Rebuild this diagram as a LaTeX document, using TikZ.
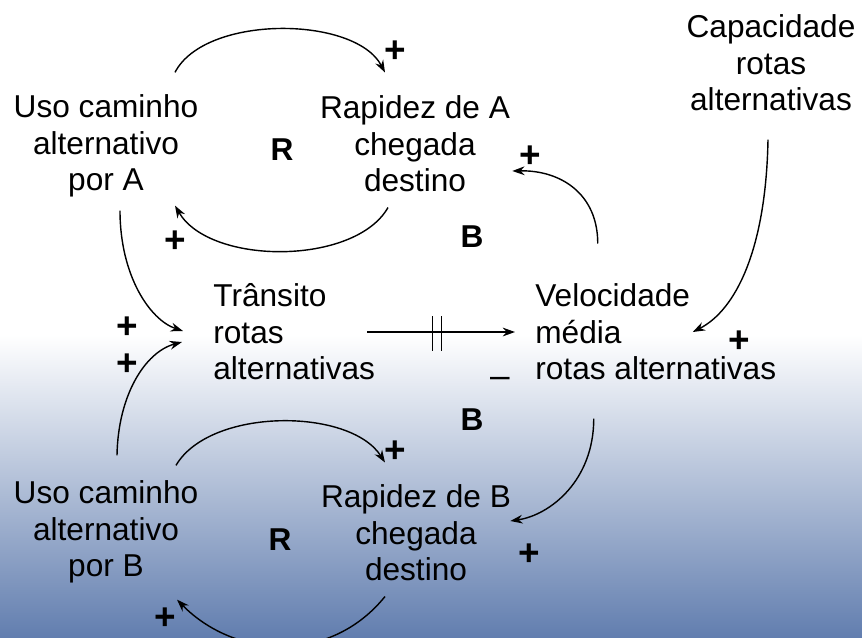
\documentclass[tikz,border=0pt]{standalone}
\usepackage{fontspec}
\setmainfont{Liberation Sans}
\usetikzlibrary{arrows.meta, calc}
\definecolor{fundo}{RGB}{98,126,175}

\begin{document}
\begin{tikzpicture}[x=0.02cm, y=-0.02cm,
  font=\fontsize{18}{20.8}\selectfont,
  var/.style={inner sep=0pt, align=center},
  sinal/.style={inner sep=0pt, font=\fontsize{21}{23}\selectfont\bfseries},
  laco/.style={inner sep=0pt, font=\fontsize{18}{20.8}\selectfont\bfseries},
  seta/.style={line width=0.8pt, -{Stealth[length=7pt, width=5pt]}}]
% Fundo: branco em cima, degrade azul embaixo
\useasboundingbox (0,0) rectangle (862,637);
\fill[white] (0,0) rectangle (862,335);
\shade[top color=white, bottom color=fundo] (0,335) rectangle (862,637);

% Variaveis
\node[var] (usoA) at (106,146) {Uso caminho\\alternativo\\por A};
\node[var] (rapA) at (415,144) {Rapidez de A\\chegada\\destino};
\node[var] (cap) at (771,63) {Capacidade\\rotas\\alternativas};
\node[var, align=left, anchor=west] (trans) at (213,332) {Trânsito\\rotas\\alternativas};
\node[var, align=left, anchor=west] (vel) at (535,332) {Velocidade\\média\\rotas alternativas};
\node[var] (usoB) at (106,532) {Uso caminho\\alternativo\\por B};
\node[var] (rapB) at (416,533) {Rapidez de B\\chegada\\destino};

% Lacos
\node[laco] (r1) at (282,150) {R};
\node[laco] (b1) at (472,237) {B};
\node[laco] (b2) at (472,420) {B};
\node[laco] (r2) at (280,540) {R};

% Setas
\draw[seta] ($(usoA.north)+(69,-22)$) .. controls +(30,-58) and +(-30,-57) .. ($(rapA.north)+(-30,-23)$);
\draw[seta] ($(rapA.south)+(-27,15)$) .. controls +(-33,58) and +(35,60) .. ($(usoA.south)+(69,8)$);
\draw[seta] ($(vel.north)+(-58,-40)$) .. controls +(0,-50) and +(48,-1) .. ($(rapA.east)+(2,27)$);
\draw[seta] ($(cap.south)+(-3,28)$) .. controls +(-2,110) and +(43,-22) .. ($(vel.center)+(37,0)$);
\draw[seta] ($(usoA.south)+(14,13)$) .. controls +(0,65) and +(-33,-11) .. ($(trans.west)+(-30,-1)$);
\draw[seta] ($(usoB.north)+(11,-25)$) .. controls +(1,-60) and +(-37,10) .. ($(trans.west)+(-31,10)$);
\draw[seta] ($(trans.east)+(-8,0)$) -- coordinate[pos=0.47] (atraso) ($(vel.west)+(-20,0)$);
\draw[line width=0.8pt] ($(atraso)+(-4.5,-16)$) -- ($(atraso)+(-4.5,19)$);
\draw[line width=0.8pt] ($(atraso)+(4.5,-16)$) -- ($(atraso)+(4.5,19)$);
\draw[seta] ($(vel.south)+(-62,38)$) .. controls +(0,62) and +(40,-6) .. ($(rapB.east)+(-1,-12)$);
\draw[seta] ($(usoB.north)+(70,-15)$) .. controls +(34,-58) and +(-35,-55) .. ($(rapB.north)+(-31,-22)$);
\draw[seta] ($(rapB.south)+(-31,15)$) .. controls +(-55,68) and +(58,59) .. ($(usoB.south)+(71,16)$);

% Polaridades
\node[sinal] (p1) at (395,52) {+};
\node[sinal] (p2) at (530,157) {+};
\node[sinal] (p3) at (175,242) {+};
\node[sinal] (p4) at (127,328) {+};
\node[sinal] (p5) at (127,365) {+};
\node[sinal] (p6) at (739,342) {+};
\node[sinal] (p7) at (395,452) {+};
\node[sinal] (p8) at (529,555) {+};
\node[sinal] (p9) at (165,619) {+};
\node[inner sep=0pt, font=\fontsize{20}{22}\selectfont] (m1) at (500,382) {–};
\end{tikzpicture}
\end{document}
